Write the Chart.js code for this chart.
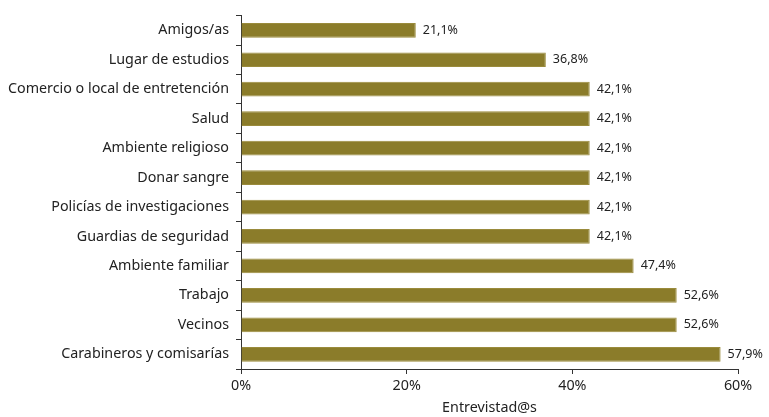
<!DOCTYPE html>
<html>
<head>
<meta charset="utf-8">
<script src="https://cdn.jsdelivr.net/npm/chart.js@4/dist/chart.umd.min.js"></script>
<style>
  body { margin: 0; background: #fff; }
  #wrap { width: 769px; height: 417px; }
</style>
</head>
<body>
<div id="wrap"><canvas id="mainChart" width="769" height="417"></canvas></div>
<script>
// Data
const categories = [
    "Amigos/as",
    "Lugar de estudios",
    "Comercio o local de entretención",
    "Salud",
    "Ambiente religioso",
    "Donar sangre",
    "Policías de investigaciones",
    "Guardias de seguridad",
    "Ambiente familiar",
    "Trabajo",
    "Vecinos",
    "Carabineros y comisarías"
];
const values = [21.1, 36.8, 42.1, 42.1, 42.1, 42.1, 42.1, 42.1, 47.4, 52.6, 52.6, 57.9];
const xTicks = [0, 20, 40, 60];
const axisTitle = "Entrevistad@s";

const FONT = "'Noto Sans', sans-serif";
const TEXT = "#222";
const BAR = "#8b7c2a";

// Write the value next to each bar, with a comma as decimal mark
const valueLabels = {
    id: "valueLabels",
    afterDatasetsDraw(chart) {
        const ctx = chart.ctx;
        const meta = chart.getDatasetMeta(0);
        ctx.save();
        ctx.font = "12.5px " + FONT;
        ctx.fillStyle = TEXT;
        ctx.textBaseline = "middle";
        ctx.textAlign = "left";
        meta.data.forEach((bar, i) => {
            ctx.fillText(values[i].toFixed(1).replace(".", ",") + "%", bar.x + 7, bar.y);
        });
        ctx.restore();
    }
};

const ctx = document.getElementById("mainChart").getContext("2d");
new Chart(ctx, {
    type: "bar",
    data: {
        labels: categories,
        datasets: [{
            data: values,
            backgroundColor: BAR,
            borderColor: "#9a8b3c",
            borderWidth: 1,
            categoryPercentage: 0.5,
            barPercentage: 1
        }]
    },
    options: {
        indexAxis: "y",
        responsive: false,
        animation: false,
        layout: { padding: { top: 13, right: 31, bottom: 0, left: 0 } },
        plugins: {
            legend: { display: false },
            tooltip: { enabled: false }
        },
        scales: {
            x: {
                min: 0,
                max: 60,
                afterBuildTicks: (scale) => { scale.ticks = xTicks.map(v => ({ value: v })); },
                afterFit: (scale) => { scale.height = 48; },
                ticks: {
                    color: TEXT,
                    font: { family: FONT, size: 14.3 },
                    padding: 3,
                    callback: (v) => v + "%"
                },
                grid: { display: true, drawOnChartArea: false, drawTicks: true, tickLength: 5, color: "#333" },
                border: { display: true, color: "#333", width: 1 },
                title: {
                    display: true,
                    text: axisTitle,
                    color: TEXT,
                    font: { family: FONT, size: 14.3 },
                    padding: { top: 2, bottom: 0 }
                }
            },
            y: {
                afterFit: (scale) => { scale.width = 241; },
                ticks: {
                    color: TEXT,
                    font: { family: FONT, size: 14.3 },
                    padding: 7
                },
                grid: { display: true, drawOnChartArea: false, drawTicks: true, tickLength: 5, offset: true, color: "#333" },
                border: { display: true, color: "#333", width: 1 }
            }
        }
    },
    plugins: [valueLabels]
});
</script>
</body>
</html>
